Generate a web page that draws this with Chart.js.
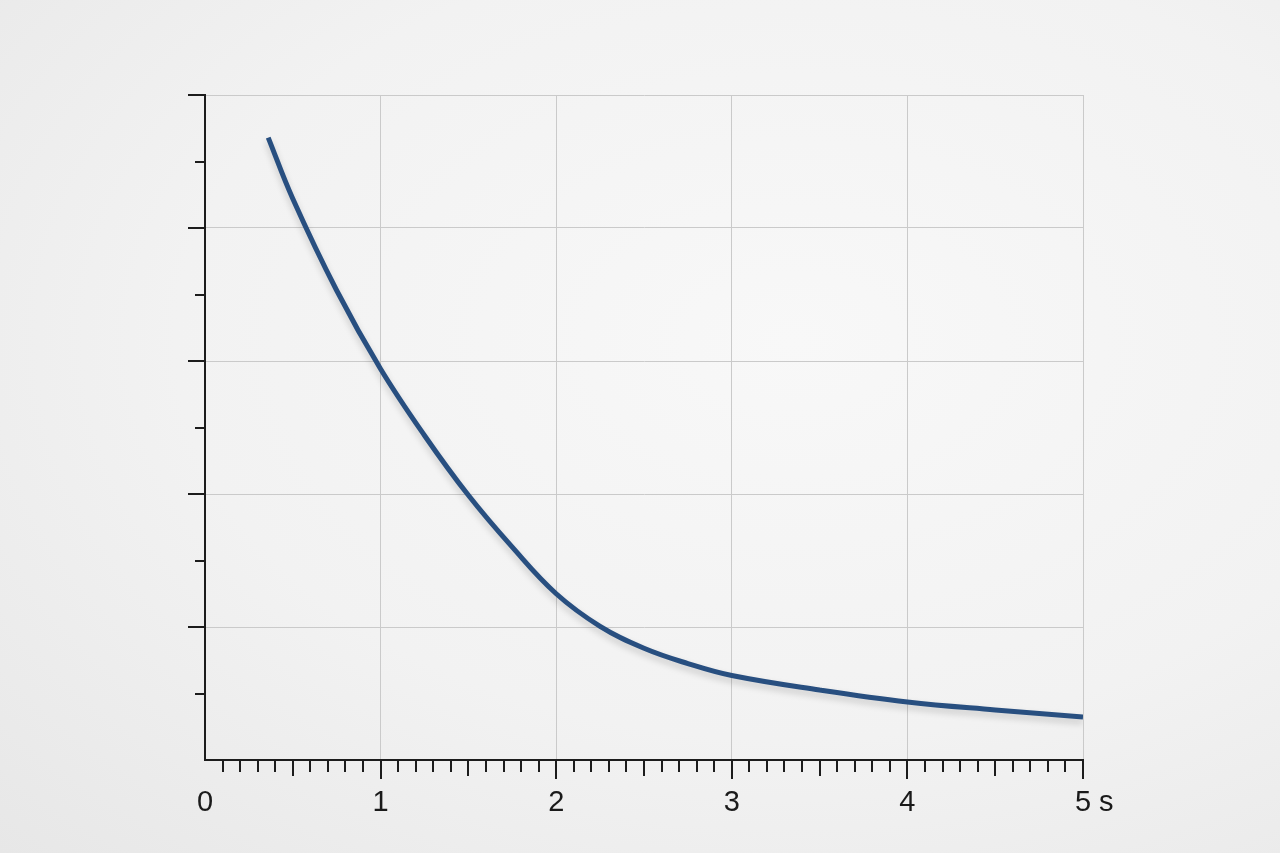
<!DOCTYPE html>
<html>
<head>
<meta charset="utf-8">
<script src="https://cdn.jsdelivr.net/npm/chart.js@4/dist/chart.umd.min.js"></script>
<style>
  html, body { margin: 0; padding: 0; }
  body {
    width: 1280px; height: 853px; overflow: hidden;
    background: radial-gradient(ellipse at 62% 40%, #f8f8f8 0%, #f2f2f2 55%, #e7e7e7 100%);
  }
  #wrap { position: relative; width: 1280px; height: 853px; }
</style>
</head>
<body>
<div id="wrap"><canvas id="chart"></canvas></div>
<script>
// Decay curve (x in seconds, y in grid units, no y labels)
const TIME_S = [0.36, 0.5, 0.75, 1.0, 1.25, 1.5, 1.75, 2.0, 2.25, 2.5, 2.75, 3.0, 3.5, 4.0, 4.5, 5.0];
const VALUE  = [4.68, 4.22, 3.53, 2.94, 2.44, 1.99, 1.60, 1.25, 1.005, 0.84, 0.725, 0.635, 0.526, 0.436, 0.376, 0.323];

const X_LABELS = ['0', '1', '2', '3', '4', '5'];
const X_UNIT = 's';
const X_MAX = 5, Y_MAX = 5;

const AXIS_COLOR = '#1c1c1c';
const GRID_COLOR = '#cacaca';
const LINE_COLOR = '#284f80';
const FONT = '29px "Liberation Sans", Arial, sans-serif';

/** Draws ruler-style ticks (0.1 / 0.5 / 1) and the x labels, plus half-step y ticks. */
const rulerPlugin = {
  id: 'ruler',
  afterDraw(chart) {
    const { ctx, scales: { x, y } } = chart;
    const base = y.getPixelForValue(0);
    const left = x.getPixelForValue(0);
    ctx.save();
    ctx.strokeStyle = AXIS_COLOR;
    ctx.lineWidth = 2;
    ctx.beginPath();
    // x ticks every 0.1, longer at halves and whole seconds
    for (let i = 1; i <= X_MAX * 10; i++) {
      const px = Math.round(x.getPixelForValue(i / 10));
      const len = i % 10 === 0 ? 19 : (i % 5 === 0 ? 16 : 12);
      ctx.moveTo(px, base);
      ctx.lineTo(px, base + len);
    }
    // y ticks every 0.5, longer on whole units
    for (let j = 1; j <= Y_MAX * 2; j++) {
      const py = Math.round(y.getPixelForValue(j / 2));
      const len = j % 2 === 0 ? 17 : 10;
      ctx.moveTo(left, py);
      ctx.lineTo(left - len, py);
    }
    ctx.stroke();

    // x labels
    ctx.fillStyle = '#1a1a1a';
    ctx.font = FONT;
    ctx.textBaseline = 'middle';
    ctx.textAlign = 'center';
    X_LABELS.forEach((lab, k) => {
      const px = x.getPixelForValue(k);
      ctx.fillText(lab, px, base + 43);
      if (k === X_LABELS.length - 1) {
        ctx.textAlign = 'left';
        ctx.fillText(' ' + X_UNIT, px + ctx.measureText(lab).width / 2, base + 43);
      }
    });
    ctx.restore();
  }
};

/** Soft shadow under the curve. */
const shadowPlugin = {
  id: 'lineShadow',
  beforeDatasetDraw(chart) {
    const ctx = chart.ctx;
    ctx.save();
    ctx.shadowColor = 'rgba(0,0,0,0.18)';
    ctx.shadowBlur = 7;
    ctx.shadowOffsetY = 4;
  },
  afterDatasetDraw(chart) {
    chart.ctx.restore();
  }
};

new Chart(document.getElementById('chart'), {
  type: 'line',
  data: {
    datasets: [{
      data: TIME_S.map((t, i) => ({ x: t, y: VALUE[i] })),
      borderColor: LINE_COLOR,
      borderWidth: 5,
      pointRadius: 0,
      tension: 0.4,
      fill: false,
    }]
  },
  options: {
    responsive: true,
    maintainAspectRatio: false,
    animation: false,
    layout: { padding: { left: 205, right: 197, top: 95, bottom: 93 } },
    plugins: { legend: { display: false }, tooltip: { enabled: false } },
    scales: {
      x: {
        type: 'linear', min: 0, max: X_MAX,
        ticks: { display: false, stepSize: 1 },
        grid: {
          drawTicks: false, lineWidth: 1,
          color: c => (c.tick && c.tick.value === 0 ? 'rgba(0,0,0,0)' : GRID_COLOR)
        },
        border: { color: AXIS_COLOR, width: 2 },
        afterFit: s => { s.height = 0; }
      },
      y: {
        type: 'linear', min: 0, max: Y_MAX,
        ticks: { display: false, stepSize: 1 },
        grid: {
          drawTicks: false, lineWidth: 1,
          color: c => (c.tick && c.tick.value === 0 ? 'rgba(0,0,0,0)' : GRID_COLOR)
        },
        border: { color: AXIS_COLOR, width: 2 },
        afterFit: s => { s.width = 0; }
      }
    }
  },
  plugins: [shadowPlugin, rulerPlugin]
});
</script>
</body>
</html>
